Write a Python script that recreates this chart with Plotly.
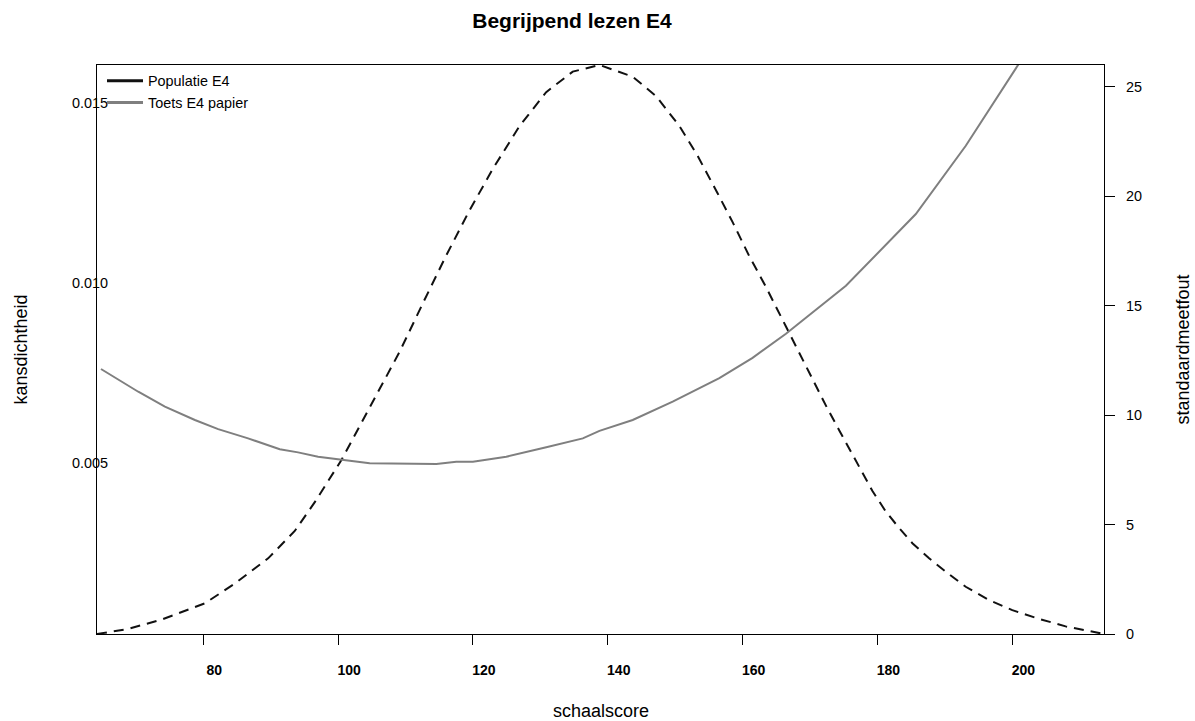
import plotly.graph_objects as go

# Population density (kansdichtheid)
pop_x = [64.25, 68.89, 73.84, 80.25, 84.69, 89.63, 93.58, 96.55, 100.5, 103.46,
         106.92, 109.14, 112.59, 116.06, 119.51, 122.96, 126.92, 130.87, 134.81,
         138.77, 143.7, 147.17, 150.62, 153.3, 156.29, 158.52, 161.0, 163.46,
         166.43, 169.88, 172.5, 174.32, 175.81, 177.29, 179.26, 181.24, 183.22,
         185.18, 187.66, 190.13, 193.09, 196.54, 200.0, 203.95, 207.91, 213.6]
pop_y = [0.000258, 0.00040, 0.00066, 0.00111, 0.00166, 0.00236, 0.00312,
         0.00392, 0.00509, 0.00612, 0.00735, 0.00810, 0.00945, 0.01078,
         0.01203, 0.01318, 0.01437, 0.01531, 0.01588, 0.016064, 0.01574,
         0.01520, 0.01437, 0.01355, 0.01250, 0.01170, 0.01075, 0.00990,
         0.00880, 0.00750, 0.00655, 0.00592, 0.00540, 0.00488, 0.00423,
         0.00366, 0.00320, 0.00278, 0.00236, 0.00199, 0.00157, 0.00120,
         0.00092, 0.00068, 0.00047, 0.000258]

sem_x = [64.84, 70.37, 74.32, 78.77, 82.22, 86.66, 91.36, 94.07, 97.04, 100.99,
         104.69, 114.58, 117.54, 120.0, 124.95, 130.88, 136.3, 138.77, 143.7,
         149.63, 156.55, 161.48, 166.43, 175.32, 185.69, 193.1, 200.5, 204.84]
sem_y = [12.11, 11.07, 10.39, 9.78, 9.36, 8.94, 8.44, 8.30, 8.10, 7.95,
         7.80, 7.77, 7.87, 7.87, 8.10, 8.53, 8.94, 9.28, 9.78,
         10.62, 11.69, 12.62, 13.72, 15.91, 19.19, 22.31, 25.84, 27.9]

x_ticks = [80, 100, 120, 140, 160, 180, 200]
left_ticks = [0.005, 0.010, 0.015]
left_labels = ["0.005", "0.010", "0.015"]
right_ticks = [0, 5, 10, 15, 20, 25]

x_range = [64.25, 213.6]
left_range = [0.000258, 0.016064]
right_range = [0, 26.0]

FONT = "Liberation Sans, Arial, Helvetica, sans-serif"

fig = go.Figure()

fig.add_trace(go.Scatter(
    x=pop_x, y=pop_y, mode="lines", yaxis="y", showlegend=False,
    line=dict(color="#111111", width=2, dash="10px,7px"),
))
fig.add_trace(go.Scatter(
    x=sem_x, y=sem_y, mode="lines", yaxis="y2", showlegend=False,
    line=dict(color="#7f7f7f", width=2),
))
# legend entries (solid lines, as in the reference legend)
fig.add_trace(go.Scatter(
    x=[None], y=[None], mode="lines", name="Populatie E4",
    line=dict(color="#111111", width=3),
))
fig.add_trace(go.Scatter(
    x=[None], y=[None], mode="lines", name="Toets E4 papier",
    line=dict(color="#7f7f7f", width=3),
))

fig.update_layout(
    width=1195, height=721,
    margin=dict(l=97, r=91, t=65, b=87),
    paper_bgcolor="white", plot_bgcolor="white",
    font=dict(family=FONT, size=14, color="black"),
    title=dict(text="<b>Begrijpend lezen E4</b>", x=572 / 1195, xref="container",
               xanchor="center",
               y=1 - 21 / 721, yanchor="middle", yref="container",
               font=dict(size=21, family=FONT, color="black")),
    showlegend=True,
    legend=dict(x=5 / 1007, y=1.0, xanchor="left", yanchor="top",
                bgcolor="rgba(0,0,0,0)", borderwidth=0,
                font=dict(size=14.4, family=FONT, color="black"),
                itemwidth=36, tracegroupgap=0),
    xaxis=dict(
        range=x_range, tickvals=x_ticks, ticks="outside", ticklen=10,
        tickwidth=1, tickcolor="black", showgrid=False, zeroline=False,
        showline=True, linecolor="black", linewidth=1, mirror=True,
        tickfont=dict(size=14, family=FONT, color="black", weight="bold"),
        ticklabelshift=11, ticklabelstandoff=13,
    ),
    yaxis=dict(
        range=left_range, tickvals=left_ticks, ticktext=left_labels,
        ticks="", showgrid=False, zeroline=False,
        showline=True, linecolor="black", linewidth=1, mirror=True,
        tickfont=dict(size=14.4, family=FONT, color="black"),
        ticklabelstandoff=-15,
    ),
    yaxis2=dict(
        range=right_range, tickvals=right_ticks, overlaying="y", side="right",
        ticks="outside", ticklen=10, tickwidth=1, tickcolor="black",
        showgrid=False, zeroline=False, showline=False,
        tickfont=dict(size=14.4, family=FONT, color="black"),
        ticklabelstandoff=8,
    ),
    annotations=[
        dict(text="kansdichtheid", xref="paper", yref="paper",
             x=-77 / 1007, y=0.5, textangle=-90, showarrow=False,
             xanchor="center", yanchor="middle",
             font=dict(size=18, family=FONT, color="black")),
        dict(text="standaardmeetfout", xref="paper", yref="paper",
             x=1 + 78 / 1007, y=0.5, textangle=-90, showarrow=False,
             xanchor="center", yanchor="middle",
             font=dict(size=18, family=FONT, color="black")),
        dict(text="schaalscore", xref="paper", yref="paper",
             x=0.5, y=-77 / 569, showarrow=False,
             xanchor="center", yanchor="middle",
             font=dict(size=18, family=FONT, color="black")),
    ],
)

fig.write_html("out.html", config={"displayModeBar": False},
               post_script="document.body.style.margin='0px';")
